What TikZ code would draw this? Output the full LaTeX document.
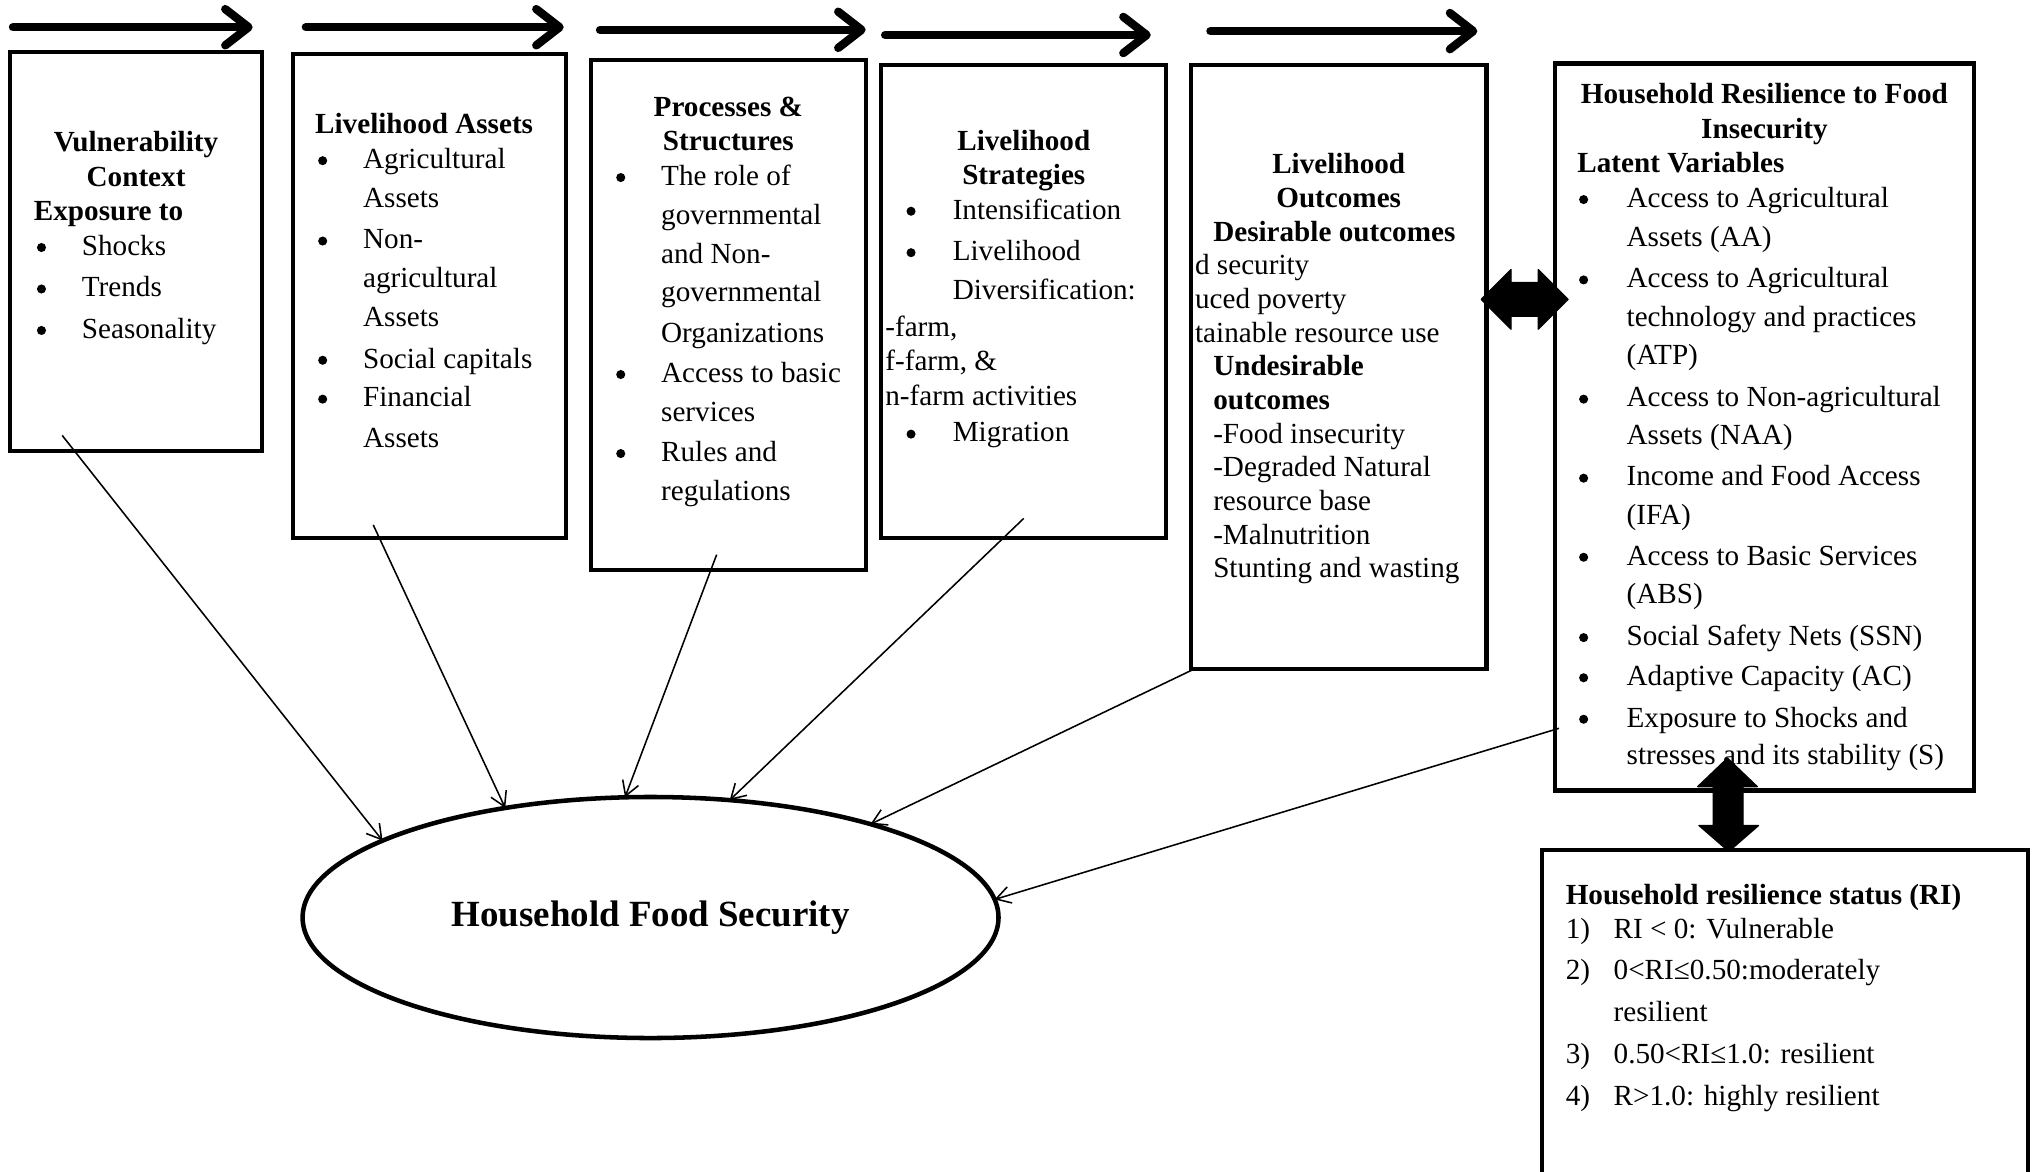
\documentclass[tikz,border=0pt]{standalone}
\usepackage{fontspec}
\setmainfont{Liberation Serif}
\usetikzlibrary{arrows.meta,shapes.geometric}
\newcommand\fsz{\fontsize{22.5pt}{27pt}\selectfont}
\begin{document}
\begin{tikzpicture}[x=1pt,y=-1pt,
  box/.style={draw,line width=3.2pt,inner sep=0pt,outer sep=0pt},
  flow/.style={line width=6.4pt,line cap=round,-{Straight Barb[length=18pt,width=28pt,round]}},
  link/.style={line width=1.2pt,-{Straight Barb[length=11pt,width=13pt]}},
  tl/.style={anchor=base west,inner sep=0pt,font=\fsz},
  tb/.style={anchor=base west,inner sep=0pt,font=\fsz\bfseries},
  tc/.style={anchor=base,inner sep=0pt,font=\fsz\bfseries},
  bul/.style={circle,fill=black,inner sep=0pt,minimum size=7pt,yshift=6pt},
  fat/.style={fill=black,draw=black,line width=1pt,line join=round}
]
\useasboundingbox (0,0) rectangle (1568,904);
\fill[white] (0,0) rectangle (1568,904);

% flow arrows on top
\coordinate (f1a) at (10,21);  \coordinate (f1b) at (195,21);
\coordinate (f2a) at (236,21); \coordinate (f2b) at (435,21);
\coordinate (f3a) at (463,23); \coordinate (f3b) at (668,23);
\coordinate (f4a) at (683,27); \coordinate (f4b) at (888,27);
\coordinate (f5a) at (934,24); \coordinate (f5b) at (1140,24);
\foreach \i in {1,...,5} \draw[flow] (f\i a) -- (f\i b);

% boxes
\node[box,minimum width=194pt,minimum height=308pt] (vc) at (105,194) {};
\node[box,minimum width=211pt,minimum height=373pt] (la) at (331.5,228.5) {};
\node[box,minimum width=212pt,minimum height=394pt] (ps) at (562,243) {};
\node[box,minimum width=220pt,minimum height=365pt] (ls) at (790,232.5) {};
\node[box,minimum width=228pt,minimum height=466pt] (lo) at (1033,283) {};
\node[box,minimum width=323pt,minimum height=561pt] (hr) at (1361.5,329.5) {};
\node[box,minimum width=375pt,minimum height=264pt] (rs) at (1377.5,788) {};

% ellipse
\node[draw,ellipse,line width=3.5pt,minimum width=537pt,minimum height=186pt,inner sep=0pt,outer sep=0pt] (hfs) at (502,708)
  {\raisebox{-3pt}{\fontsize{28.5pt}{34pt}\selectfont\bfseries Household Food Security}};

% box 1
\node[tc] (vc1) at (105,117) {Vulnerability};
\node[tc] (vc2) at (105,144) {Context};
\node[tb] (vc3) at (26,170) {Exposure to};
\foreach \y/\t [count=\i] in {197/Shocks,229/Trends,261/Seasonality}{
  \node[bul] (vcb\i) at (32,\y) {};
  \node[tl] (vct\i) at (63,\y) {\t};}

% box 2
\node[tb] (la0) at (243,103) {Livelihood Assets};
\foreach \y [count=\i] in {130,192,284,314} \node[bul] (lab\i) at (249,\y) {};
\foreach \y/\t [count=\i] in {130/Agricultural,160/Assets,192/Non-,222/agricultural,252/Assets,284/Social capitals,314/Financial,345/Assets}
  \node[tl] (lat\i) at (280,\y) {\t};

% box 3
\node[tc] (ps1) at (562,90) {Processes \&};
\node[tc] (ps2) at (562,116) {Structures};
\foreach \y [count=\i] in {143,295,356} \node[bul] (psb\i) at (479,\y) {};
\foreach \y/\t [count=\i] in {143/The role of,173/governmental,203/and Non-,233/governmental,264/Organizations,295/Access to basic,325/services,356/Rules and,386/regulations}
  \node[tl] (pst\i) at (510,\y) {\t};

% box 4
\node[tc] (ls1) at (790,116) {Livelihood};
\node[tc] (ls2) at (790,142) {Strategies};
\foreach \y [count=\i] in {169,201,341} \node[bul] (lsb\i) at (703,\y) {};
\foreach \y/\t [count=\i] in {169/Intensification,201/Livelihood,231/Diversification:,341/Migration}
  \node[tl] (lst\i) at (735,\y) {\t};
\node[tl] (lsf1) at (683,260) {-farm,};
\node[tl] (lsf2) at (683,286) {f-farm, \&};
\node[tl] (lsf3) at (683,313) {n-farm activities};

% box 5
\node[tc] (lo1) at (1033,134) {Livelihood};
\node[tc] (lo2) at (1033,160) {Outcomes};
\node[tb] (lo3) at (936,186) {Desirable outcomes};
\node[tl] (lo4) at (922,212) {d security};
\node[tl] (lo5) at (922,238) {uced poverty};
\node[tl] (lo6) at (922,264) {tainable resource use};
\node[tb] (lo7) at (936,290) {Undesirable};
\node[tb] (lo8) at (936,316) {outcomes};
\foreach \y/\t [count=\i] in {342/-Food insecurity,368/-Degraded Natural,394/resource base,420/-Malnutrition,446/Stunting and wasting}
  \node[tl] (lot\i) at (936,\y) {\t};

% box 6
\node[tc] (hr1) at (1361.5,80) {Household Resilience to Food};
\node[tc] (hr2) at (1361.5,107) {Insecurity};
\node[tb] (hr3) at (1217,133) {Latent Variables};
\foreach \y [count=\i] in {160,222,314,375,436,498,529,561} \node[bul] (hrb\i) at (1222,\y) {};
\foreach \y/\t [count=\i] in {160/Access to Agricultural,190/Assets (AA),222/Access to Agricultural,252/technology and practices,281/(ATP),314/Access to Non-agricultural,343/Assets (NAA),375/Income and Food Access,405/(IFA),436/Access to Basic Services,466/(ABS),498/Social Safety Nets (SSN),529/Adaptive Capacity (AC),561/Exposure to Shocks and,590/stresses and its stability (S)}
  \node[tl] (hrt\i) at (1255,\y) {\t};

% box 7
\node[tb] (rs0) at (1208,698) {Household resilience status (RI)};
\foreach \y/\t [count=\i] in {724/1),756/2),821/3),853/4)} \node[tl] (rsn\i) at (1208,\y) {\t};
\node[tl] (rst1) at (1245,724) {RI < 0: Vulnerable};
\node[tl] (rst2) at (1245,756) {0<RI≤0.50:moderately};
\node[tl] (rst3) at (1245,788) {resilient};
\node[tl] (rst4) at (1245,821) {0.50<RI≤1.0: resilient};
\node[tl] (rst5) at (1245,853) {R>1.0: highly resilient};

% links to household food security
\coordinate (s1) at (48,336);
\coordinate (s2) at (288,405);
\coordinate (s3) at (553,428);
\coordinate (s4) at (790,400);
\coordinate (s5) at (922,516);
\coordinate (s6) at (1203,562);
\draw[link] (s1) -- (hfs.164.5);
\draw[link] (s2) -- (hfs.143);
\draw[link] (s3) -- (hfs.102.7);
\draw[link] (s4) -- (hfs.56.2);
\draw[link] (s5) -- (hfs.23.2);
\draw[link] (s6) -- (hfs.3.9);

% fat double arrows
\draw[fat] (1143,231) -- (1166,208) -- (1166,218) -- (1187,218) -- (1187,208) -- (1210,231)
  -- (1187,254) -- (1187,244) -- (1166,244) -- (1166,254) -- cycle;
\draw[fat] (1333,585) -- (1356,607) -- (1345,607) -- (1345,637) -- (1357,637) -- (1334,657)
  -- (1311,637) -- (1322,637) -- (1322,607) -- (1310,607) -- cycle;
\end{tikzpicture}
\end{document}
